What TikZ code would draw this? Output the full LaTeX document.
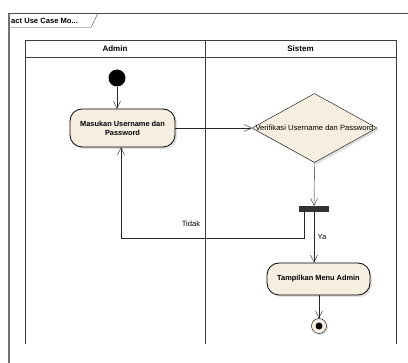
\documentclass[tikz,border=0pt]{standalone}
\usepackage{fontspec}
\setmainfont{Liberation Sans}
\usetikzlibrary{shapes.geometric,arrows.meta,shadows}
\definecolor{actfill}{RGB}{246,238,224}
\definecolor{lanegray}{RGB}{60,60,60}
\begin{document}
\begin{tikzpicture} [x=1pt,y=-1pt,
    act/.style={rectangle,draw,thick,rounded corners=12pt,fill=actfill,align=center,
        font=\fontsize{7.4}{9}\selectfont\bfseries,
        drop shadow={shadow xshift=2pt,shadow yshift=-2pt,fill=black!25}},
    flow/.style={draw=black!85,->,>={Straight Barb[length=7pt,width=7pt]}},
    lane/.style={draw=lanegray,semithick}]
\useasboundingbox (0,0) rectangle (408,363);
%frame
        \draw [black!55, line width=1.3pt] (9,13) -- (9,363);
        \draw [black!70] (9,13) -- (408,13);
        \draw [black!70] (9,27.5) -- (91,27.5) -- (98,13);
        \node[anchor=west,inner sep=0pt,font=\fontsize{7.6}{9}\selectfont\bfseries] (tab) at (11,20.5) {act Use Case Mo...};
%lanes
        \draw [lane] (25,344) -- (25,40) -- (396,40) -- (396,344);
        \draw [lane] (25,57) -- (396,57);
        \draw [lane] (205,40) -- (205,344);
        \node[font=\fontsize{8}{9}\selectfont\bfseries] (admin) at (115,48.5) {Admin};
        \node[font=\fontsize{8}{9}\selectfont\bfseries] (sistem) at (300.5,48.5) {Sistem};
%nodes
        \node[circle,fill=black,minimum size=17pt,inner sep=0pt] (start) at (117,78) {};
        \node[act,minimum width=105pt,minimum height=38pt] (login) at (122.5,128) {Masukan Username dan\\Password};
        \node[diamond,draw,fill=actfill,minimum width=125pt,minimum height=69pt,inner sep=0pt,
              drop shadow={shadow xshift=2pt,shadow yshift=-2pt,fill=black!25}] (cek) at (314.5,128) {};
        \node[font=\fontsize{7.6}{9}\selectfont,inner sep=0pt] (cektext) at (cek) {Verifikasi Username dan Password};
        \node[rectangle,fill=black!80,minimum width=30pt,minimum height=6pt,inner sep=0pt] (bar) at (314,209) {};
        \node[act,minimum width=103pt,minimum height=32pt] (menu) at (318.5,279) {Tampilkan Menu Admin};
        \node[circle,draw,fill=actfill,minimum size=15pt,inner sep=0pt,
              drop shadow={shadow xshift=1.5pt,shadow yshift=-1.5pt,fill=black!25}] (stop) at (319,326) {};
        \node[circle,fill=black,minimum size=7pt,inner sep=0pt] (stopdot) at (stop) {};
        \coordinate (back) at (121,238);
%flows
        \draw [flow] (start) -- (start |- login.north);
        \draw [flow] (login.east) -- (cek.west);
        \draw [flow] (cek.south) -- (bar.north);
        \draw [flow] ([xshift=-10pt]bar.south) |- (back) -- (back |- login.south);
        \node[font=\fontsize{7.6}{9}\selectfont] (tidak) at (191,224) {Tidak};
        \draw [flow] (bar.south) -- (bar.south |- menu.north) node[midway,right,font=\fontsize{7.6}{9}\selectfont] (ya) {Ya};
        \draw [flow] (menu.south -| stop) -- (stop.north);
    \end{tikzpicture}
\end{document}
